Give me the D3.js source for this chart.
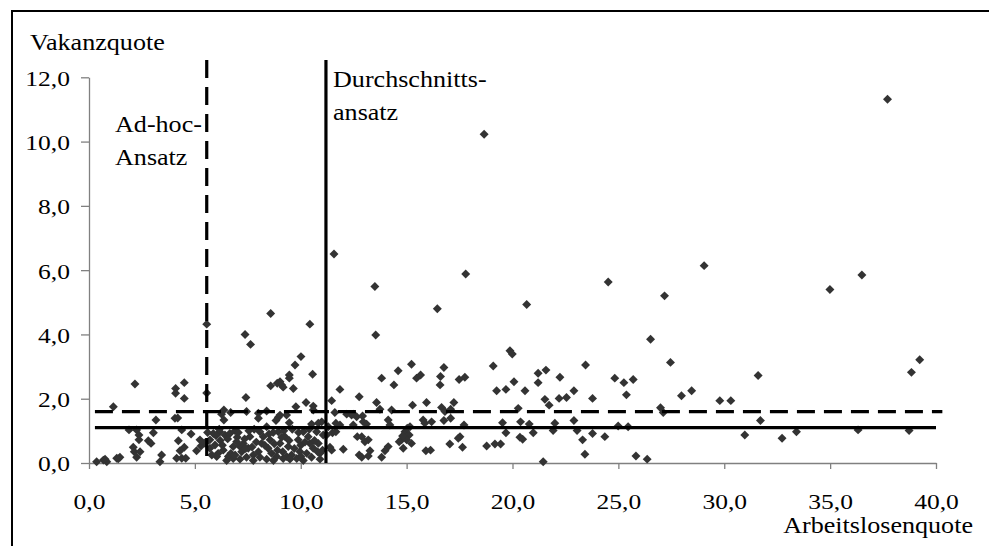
<!DOCTYPE html>
<html>
<head>
<meta charset="utf-8">
<script src="https://cdn.jsdelivr.net/npm/d3@7"></script>
<style>
  html, body { margin: 0; padding: 0; background: #fff; overflow: hidden; }
  svg { display: block; }
  svg text { font-family: "Liberation Serif", "Times New Roman", serif; fill: #000; }
</style>
</head>
<body>
<div id="chart"></div>
<script>
// axis ticks
var xTicks = [0, 5, 10, 15, 20, 25, 30, 35, 40];
var yTicks = [0, 2, 4, 6, 8, 10, 12];

// reference lines (ad-hoc = dashed, average = solid)
var vLines = [
    {x: 5.56, y0: 0, y1: 12.54, dashed: true},
    {x: 11.19, y0: 0, y1: 12.54, dashed: false}
];
var hLines = [
    {y: 1.60, x0: 0.28, x1: 40.3, dashed: true},
    {y: 1.10, x0: 0.28, x1: 40.0, dashed: false}
];

// Arbeitslosenquote / Vakanzquote
var lowRegion = [
    [2.17,2.46],[1.15,1.75],[4.09,2.32],[4.09,2.17],[4.50,2.50],[4.50,2.01],[5.56,2.18],[3.16,1.34],
    [4.06,1.39],[4.19,1.40],[1.89,1.03],[2.25,1.03],[2.36,0.87],[2.36,0.72],[3.04,0.94],[2.80,0.69],
    [2.93,0.61],[4.38,1.03],[4.82,0.90],[4.22,0.69],[4.50,0.49],[4.30,0.38],[5.08,0.38],[5.29,0.53],
    [5.48,0.63],[2.09,0.49],[2.14,0.35],[2.41,0.35],[2.25,0.18],[3.43,0.25],[3.35,0.04],[4.14,0.15],
    [4.38,0.15],[4.57,0.15],[0.36,0.04],[0.68,0.09],[0.84,0.04],[0.76,0.12],[1.31,0.15],[1.46,0.18],
    [1.38,0.13],[5.24,0.72]
];
var midAbove = [
    [5.56,4.32],[7.37,4.00],[7.63,3.69],[8.58,4.65],[10.43,4.32],[10.01,3.31],[9.73,3.05],[10.56,2.76],
    [9.46,2.74],[9.46,2.64],[9.02,2.53],[9.10,2.43],[9.17,2.36],[8.89,2.48],[8.58,2.40],[9.65,2.32],
    [7.41,2.04],[10.25,1.88],[10.59,1.77],[9.77,1.75],[6.37,1.65],[6.26,1.52],[6.37,1.34],[6.69,1.57],
    [7.44,1.60],[8.00,1.55],[8.00,1.39],[8.39,1.62],[8.94,1.42],[8.83,1.32],[9.02,1.49],[9.33,1.49],
    [10.59,1.65],[10.51,1.21],[10.83,1.24],[9.46,1.25]
];
var midBelow = [
    [5.87,0.92],[6.18,0.97],[6.42,0.87],[6.65,0.92],[5.48,0.61],[5.71,0.72],[5.95,0.56],[5.71,0.46],
    [6.10,0.30],[6.34,0.40],[6.58,0.20],[6.81,0.51],[6.97,0.66],[7.13,0.51],[7.29,0.61],[7.21,0.35],
    [7.60,0.82],[7.52,0.46],[7.76,0.25],[8.07,0.97],[8.23,0.82],[8.39,1.13],[8.15,0.61],[8.55,0.72],
    [8.46,0.46],[8.62,0.30],[8.94,0.97],[9.02,0.61],[8.86,0.20],[9.25,0.82],[9.41,0.51],[9.33,0.20],
    [9.57,0.25],[9.88,0.72],[9.96,0.35],[10.12,0.97],[10.35,0.82],[10.43,0.61],[10.28,0.30],[10.59,0.46],
    [10.83,0.61],[10.91,0.30],[10.75,0.97],[6.50,0.08],[6.81,0.14],[7.13,0.12],[7.44,0.18],[7.76,0.08],
    [8.07,0.18],[8.39,0.12],[8.71,0.08],[9.17,0.14],[9.49,0.12],[9.81,0.14],[10.12,0.08],[10.51,0.18],
    [10.91,0.12],[6.03,0.20],[10.99,1.28],[11.06,0.87],[11.03,0.40],[6.90,1.00],[7.00,0.80],[7.80,1.05],
    [8.70,0.95],[9.60,1.05],[10.00,0.55],[7.35,0.75],[6.20,0.70],[9.15,0.35],
    [5.60,0.95],[5.80,0.25],[6.00,0.85],[6.30,0.55],[6.55,0.75],[6.70,0.30],[6.90,0.25],[7.05,0.95],
    [7.40,0.45],[7.55,1.00],[7.90,0.65],[8.00,0.35],[8.30,0.55],[8.50,0.90],[8.75,0.60],[8.90,0.40],
    [9.20,1.00],[9.45,0.70],[9.70,0.45],[9.90,0.95],[10.20,0.65],[10.40,1.05],[10.65,0.70],[10.80,0.35],
    [6.15,1.05],[7.70,0.50],[9.10,0.80],[10.00,0.20]
];
var highRegion = [
    [18.66,10.23],[11.57,6.50],[13.50,5.49],[13.54,3.98],[17.79,5.88],[16.45,4.80],[20.67,4.93],[24.52,5.63],
    [26.52,3.85],[19.88,3.49],[19.99,3.39],[15.23,3.07],[14.60,2.87],[13.82,2.64],[16.76,2.97],[19.09,3.02],
    [21.21,2.79],[21.58,2.89],[23.45,3.05],[22.24,2.67],[24.83,2.64],[25.70,2.60],[14.40,2.43],[15.47,2.64],
    [15.66,2.74],[11.85,2.29],[12.76,2.06],[11.46,1.94],[16.58,2.43],[16.60,2.69],[17.48,2.60],[17.75,2.67],
    [19.25,2.25],[19.69,2.29],[20.07,2.53],[20.59,2.25],[21.21,2.50],[21.53,1.98],[21.73,1.80],[22.20,2.01],
    [22.55,2.04],[22.90,2.25],[23.78,2.01],[25.26,2.50],[25.38,2.12],[20.27,1.70],[13.58,1.88],[13.74,1.67],
    [14.29,1.65],[14.13,1.34],[14.21,1.18],[15.28,1.80],[15.94,1.88],[16.65,1.73],[16.81,1.60],[17.08,1.67],
    [17.23,1.88],[11.61,1.57],[12.17,1.52],[12.40,1.49],[12.48,1.52],[19.53,1.25],[19.69,0.94],[20.38,1.28],
    [20.79,1.21],[20.98,0.94],[20.35,0.80],[20.48,0.74],[22.00,1.24],[21.92,1.01],[22.90,1.32],[23.05,1.01],
    [23.31,0.72],[23.78,0.92],[24.36,0.82],[23.42,0.27],[21.45,0.04],[24.99,1.15],[25.46,1.13],[25.83,0.22],
    [26.36,0.12],[18.78,0.53],[19.17,0.59],[19.44,0.59],[17.71,1.18],[17.52,0.82],[17.64,0.49],[17.44,0.77],
    [17.04,0.59],[16.76,1.32],[17.08,1.39],[16.18,1.28],[15.78,1.34],[15.86,1.24],[15.91,0.38],[16.13,0.40],
    [14.92,0.97],[15.03,1.08],[15.16,1.13],[15.12,0.87],[15.00,0.72],[14.76,0.72],[14.84,0.46],[15.23,0.61],
    [14.65,0.66],[14.81,0.84],[14.13,0.51],[13.98,0.38],[13.82,0.18],[13.27,0.38],[13.19,0.22],[12.76,0.25],
    [12.88,0.18],[12.64,1.44],[12.92,1.46],[12.95,1.28],[13.11,1.21],[13.19,0.72],[13.03,0.66],[12.88,0.82],
    [12.67,0.82],[12.48,1.18],[12.01,0.43],[11.46,0.40],[11.38,0.49],[11.50,0.94],[11.66,0.97],[11.22,0.87],
    [11.30,1.13],[11.85,1.18],[11.66,1.24]
];
var farRegion = [
    [37.71,11.32],[29.05,6.14],[27.18,5.20],[34.99,5.40],[36.50,5.85],[27.46,3.13],[31.60,2.72],[39.23,3.21],
    [38.84,2.82],[27.98,2.09],[28.46,2.25],[29.79,1.94],[30.31,1.94],[26.99,1.72],[27.12,1.57],[31.71,1.32],
    [30.97,0.87],[32.73,0.77],[33.41,0.97],[36.32,1.03],[38.73,1.01]
];

var points = lowRegion.concat(midAbove, midBelow, highRegion, farRegion);

var width = 989, height = 546;
var sx = 1.16; // glyphs in the picture are a bit wider than tall
var serif = '"Liberation Serif", "Times New Roman", serif';

var svg = d3.select('#chart').append('svg')
    .attr('width', width)
    .attr('height', height);

// outer frame: only its top and left edge are inside the picture
svg.append('path')
    .attr('d', d3.line()([[12, height + 5], [12, 11], [width + 5, 11]]))
    .style('fill', 'none')
    .style('stroke', '#000')
    .style('stroke-width', 2);

var x = d3.scaleLinear().domain([0, 40]).range([89, 936]);
var y = d3.scaleLinear().domain([0, 12]).range([463, 77.3]);

var de = d3.formatLocale({decimal: ',', thousands: '.', grouping: [3], currency: ['', ' €']});
var fmt = de.format('.1f');

// stretch axis labels horizontally around their anchor
function stretch(sel) {
    sel.each(function () {
        var t = d3.select(this);
        var tx = +t.attr('x') || 0, ty = +t.attr('y') || 0;
        t.attr('x', 0).attr('y', 0)
            .attr('transform', 'translate(' + tx + ',' + ty + ') scale(' + sx + ',1)');
    });
}

var yAxis = svg.append('g')
    .attr('transform', 'translate(' + x(0) + ',0)')
    .call(d3.axisLeft(y).tickValues(yTicks).tickFormat(fmt).tickSize(8).tickSizeOuter(0).tickPadding(11));

var xAxis = svg.append('g')
    .attr('transform', 'translate(0,' + y(0) + ')')
    .call(d3.axisBottom(x).tickValues(xTicks).tickFormat(fmt).tickSize(6).tickSizeOuter(0).tickPadding(24));

[yAxis, xAxis].forEach(function (g) {
    g.attr('font-family', serif).attr('font-size', 22);
    g.select('.domain').style('stroke', '#808080').style('stroke-width', 1.3);
    g.selectAll('.tick line').style('stroke', '#808080').style('stroke-width', 1.3);
    g.selectAll('.tick text')
        .attr('font-family', serif)
        .style('font-size', '22px')
        .style('fill', '#000')
        .call(stretch);
});
yAxis.selectAll('.tick text').attr('dy', '0.36em');

// scatter points
var diamond = d3.symbol().type(d3.symbolSquare).size(40);
svg.append('g').selectAll('path')
    .data(points)
    .enter().append('path')
    .attr('d', diamond)
    .attr('transform', function (d) {
        return 'translate(' + x(d[0]) + ',' + y(d[1]) + ') rotate(45)';
    })
    .style('fill', '#333');

// reference lines
svg.append('g').selectAll('line')
    .data(vLines)
    .enter().append('line')
    .attr('x1', function (d) { return x(d.x) })
    .attr('x2', function (d) { return x(d.x) })
    .attr('y1', function (d) { return y(d.y1) })
    .attr('y2', function (d) { return y(d.y0) })
    .style('stroke', '#000')
    .style('stroke-width', 3.2)
    .style('stroke-dasharray', function (d) { return d.dashed ? '18,9' : null });

svg.append('g').selectAll('line')
    .data(hLines)
    .enter().append('line')
    .attr('x1', function (d) { return x(d.x0) })
    .attr('x2', function (d) { return x(d.x1) })
    .attr('y1', function (d) { return y(d.y) })
    .attr('y2', function (d) { return y(d.y) })
    .style('stroke', '#000')
    .style('stroke-width', 3.2)
    .style('stroke-dasharray', function (d) { return d.dashed ? '18,9' : null });

// texts
var labels = [
    {t: 'Vakanzquote', x: 30, y: 50, anchor: 'start'},
    {t: 'Arbeitslosenquote', x: 973, y: 533, anchor: 'end'},
    {t: 'Ad-hoc-', x: 115, y: 132, anchor: 'start'},
    {t: 'Ansatz', x: 115, y: 165, anchor: 'start'},
    {t: 'Durchschnitts-', x: 333, y: 87, anchor: 'start'},
    {t: 'ansatz', x: 333, y: 120, anchor: 'start'}
];
svg.append('g').selectAll('text')
    .data(labels)
    .enter().append('text')
    .attr('transform', function (d) {
        return 'translate(' + d.x + ',' + d.y + ') scale(' + sx + ',1)';
    })
    .attr('text-anchor', function (d) { return d.anchor })
    .attr('font-family', serif)
    .style('font-size', '22.5px')
    .text(function (d) { return d.t });
</script>
</body>
</html>
